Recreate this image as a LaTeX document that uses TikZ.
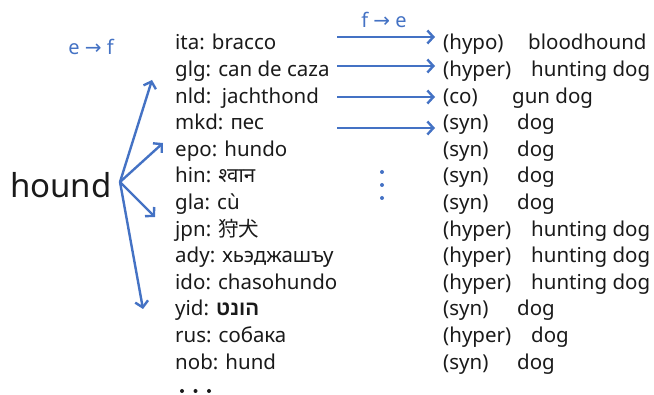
\documentclass[tikz,border=0pt]{standalone}
\usepackage{fontspec}
\setmainfont{Noto Sans}
\newfontfamily\devfont[Script=Devanagari]{Noto Sans}
\newfontfamily\hebfont[Script=Hebrew]{Liberation Sans}
\newfontfamily\cjk{Noto Sans CJK JP}
\newfontfamily\symfont{DejaVu Sans}
\TeXXeTstate=1
\usepackage{xcolor}
\usetikzlibrary{arrows.meta}
\definecolor{linkblue}{HTML}{4472C4}
\definecolor{txtgray}{HTML}{1A1A1A}

\begin{document}
\begin{tikzpicture}[x=1pt,y=-1pt,
  word/.style={anchor=base west,inner sep=0pt,text=txtgray,font=\fontsize{20.5}{24}\selectfont},
  rel/.style={word},
  gloss/.style={word},
  dirlabel/.style={inner sep=0pt,text=linkblue,font=\fontsize{20}{24}\selectfont},
  link/.style={draw=linkblue,line width=2.4pt,-{Straight Barb[length=6pt,width=13pt,line width=2.4pt]}},
  vdot/.style={circle,fill=linkblue,inner sep=0pt,minimum size=4pt},
  bdot/.style={circle,fill=txtgray,inner sep=0pt,minimum size=4pt}]
\useasboundingbox (0,0) rectangle (654,395);
%%%%%%%%%%%%%%%%
\node[word,font=\fontsize{33}{38}\selectfont] (hound) at (10,198) {hound};
\node[dirlabel] (ef) at (91,47) {e {\symfont\fontsize{20}{24}\selectfont →} f};
\node[dirlabel] (fe) at (384,20) {f {\symfont\fontsize{20}{24}\selectfont →} e};
%%%%%%%%%%%%%%%%
\node[word] (ita) at (175,50) {ita: bracco};
\node[word] (glg) at (175,76.6) {glg: can de caza};
\node[word] (nld) at (175,103.2) {nld:\ \ jachthond};
\node[word] (mkd) at (175,129.8) {mkd: пес};
\node[word] (epo) at (175,156.4) {epo: hundo};
\node[word] (hin) at (175,183) {hin: {\devfont श्वान}};
\node[word] (gla) at (175,209.6) {gla: cù};
\node[word] (jpn) at (175,236.2) {jpn: {\cjk 狩犬}};
\node[word] (ady) at (175,262.8) {ady: хьэджашъу};
\node[word] (ido) at (175,289.4) {ido: chasohundo};
\node[word] (yid) at (175,316) {yid: {\hebfont\bfseries\beginR הונט\endR}};
\node[word] (rus) at (175,342.6) {rus: собака};
\node[word] (nob) at (175,369.2) {nob: hund};
%%%%%%%%%%%%%%%%
\node[rel] (r1) at (443,50) {(hypo)};
\node[gloss] (g1) at (528,50) {bloodhound};
\node[rel] (r2) at (443,76.6) {(hyper)};
\node[gloss] (g2) at (531,76.6) {hunting dog};
\node[rel] (r3) at (443,103.2) {(co)};
\node[gloss] (g3) at (512,103.2) {gun dog};
\node[rel] (r4) at (443,129.8) {(syn)};
\node[gloss] (g4) at (517,129.8) {dog};
\node[rel] (r5) at (443,156.4) {(syn)};
\node[gloss] (g5) at (517,156.4) {dog};
\node[rel] (r6) at (443,183) {(syn)};
\node[gloss] (g6) at (517,183) {dog};
\node[rel] (r7) at (443,209.6) {(syn)};
\node[gloss] (g7) at (517,209.6) {dog};
\node[rel] (r8) at (443,236.2) {(hyper)};
\node[gloss] (g8) at (531,236.2) {hunting dog};
\node[rel] (r9) at (443,262.8) {(hyper)};
\node[gloss] (g9) at (531,262.8) {hunting dog};
\node[rel] (r10) at (443,289.4) {(hyper)};
\node[gloss] (g10) at (531,289.4) {hunting dog};
\node[rel] (r11) at (443,316) {(syn)};
\node[gloss] (g11) at (517,316) {dog};
\node[rel] (r12) at (443,342.6) {(hyper)};
\node[gloss] (g12) at (531,342.6) {dog};
\node[rel] (r13) at (443,369.2) {(syn)};
\node[gloss] (g13) at (517,369.2) {dog};
%%%%%%%%%%%%%%%%
\node[bdot] (m1) at (182,391) {};
\node[bdot] (m2) at (195.5,391) {};
\node[bdot] (m3) at (209,391) {};
\node[vdot] (v1) at (382,172) {};
\node[vdot] (v2) at (382,185) {};
\node[vdot] (v3) at (382,198) {};
%%%%%%%%%%%%%%%%
\coordinate (hub) at (120,182);
\coordinate (t1) at (152,80);
\coordinate (t2) at (163,143);
\coordinate (t3) at (155,217);
\coordinate (t4) at (143,309);
\draw [link] (hub) -- (t1);
\draw [link] (hub) -- (t2);
\draw [link] (hub) -- (t3);
\draw [link] (hub) -- (t4);
%%%%%%%%%%%%%%%%
\coordinate (s1) at (337,37);
\coordinate (s2) at (337,66);
\coordinate (s3) at (337,97);
\coordinate (s4) at (337,128);
\draw [link,shorten >=8pt] (s1) -- (s1 -| r1.west);
\draw [link,shorten >=8pt] (s2) -- (s2 -| r2.west);
\draw [link,shorten >=8pt] (s3) -- (s3 -| r3.west);
\draw [link,shorten >=8pt] (s4) -- (s4 -| r4.west);
\end{tikzpicture}
\end{document}
